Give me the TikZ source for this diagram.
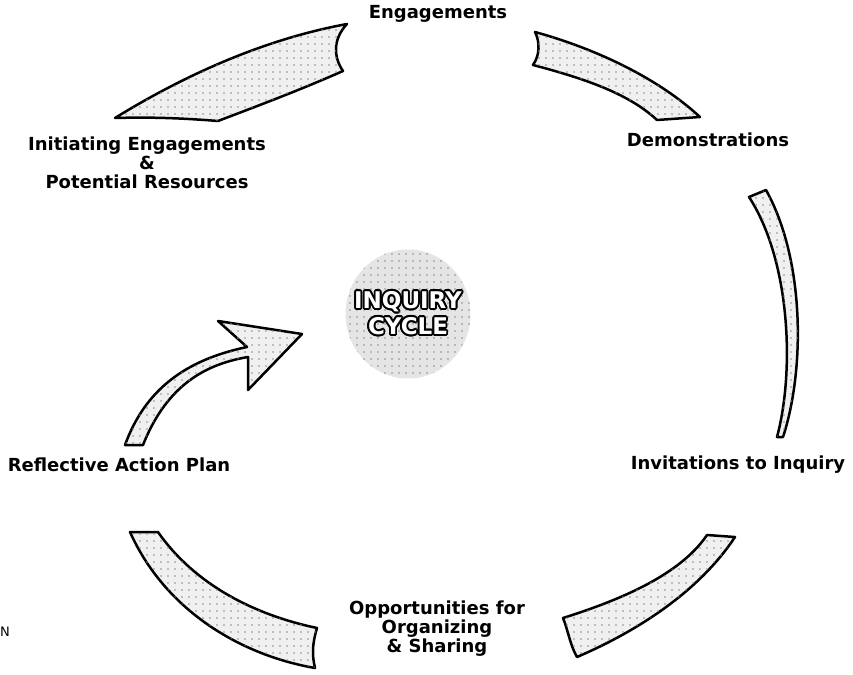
\documentclass[tikz,border=0pt]{standalone}
\usepackage{fontspec}
\setmainfont{DejaVu Sans}
\usepackage[copies]{contour}
\usetikzlibrary{patterns.meta,shapes.geometric}
\tikzset{
  band/.style={line width=2.5pt, line join=round, fill=black!6,
    postaction={pattern={Dots[distance=7pt,radius=0.9pt]}, pattern color=black!45}},
  lbl/.style={font=\fontsize{18}{19}\selectfont\bfseries, align=center, inner sep=0pt},
}
\begin{document}
\begin{tikzpicture}[x=1pt,y=-1pt]
\useasboundingbox (0,0) rectangle (853,674);
% top-left band
\draw[band] (115,118) .. controls (180,78) and (260,40) .. (347,24)
  .. controls (332,40) and (334,58) .. (343,71)
  .. controls (300,90) and (260,105) .. (218,121)
  .. controls (180,118) and (150,117) .. cycle;
% top-right band
\draw[band] (535,32) .. controls (600,50) and (660,80) .. (700,117)
  -- (657,120) .. controls (630,95) and (590,80) .. (533,65)
  .. controls (540,55) and (540,42) .. cycle;
% right crescent
\draw[band] (766,190) .. controls (805,260) and (805,370) .. (783,437)
  -- (777,437) .. controls (795,370) and (790,260) .. (749,197) -- cycle;
% bottom-right band
\draw[band] (707,535) -- (735,537) .. controls (700,590) and (640,630) .. (577,657)
  .. controls (570,645) and (568,630) .. (563,618)
  .. controls (620,600) and (680,575) .. cycle;
% bottom-left band
\draw[band] (130,532) -- (158,532) .. controls (195,585) and (255,615) .. (317,628)
  .. controls (312,645) and (312,655) .. (315,668)
  .. controls (240,655) and (165,610) .. cycle;
% curved arrow
\draw[band] (125,445) .. controls (145,390) and (185,360) .. (247,347)
  -- (218,321) -- (302,334) -- (248,390) -- (248,357)
  .. controls (200,365) and (165,390) .. (143,445) -- cycle;
% centre circle
\node[ellipse, band, fill=black!10, minimum width=125pt, minimum height=129pt] (cyc) at (408,314) {};
\contourlength{1.8pt}
\node[inner sep=0pt, align=center, font=\fontsize{23}{26}\selectfont\bfseries] (cyct) at (cyc.center)
  {\contour{black}{\textcolor{white}{INQUIRY}}\\\contour{black}{\textcolor{white}{CYCLE}}};
% labels
\node[lbl] (l1) at (438,14) {Engagements};
\node[lbl] (l2) at (708,140) {Demonstrations};
\node[lbl] (l3) at (147,163) {Initiating Engagements\\\&\\Potential Resources};
\node[lbl] (l4) at (119,465) {Reflective Action Plan};
\node[lbl] (l5) at (738,465) {Invitations to Inquiry};
\node[lbl] (l6) at (437,629) {Opportunities for\\Organizing\\\& Sharing};
\node[inner sep=0pt, font=\fontsize{13}{13}\selectfont] (nn) at (5,632) {N};
\end{tikzpicture}
\end{document}
